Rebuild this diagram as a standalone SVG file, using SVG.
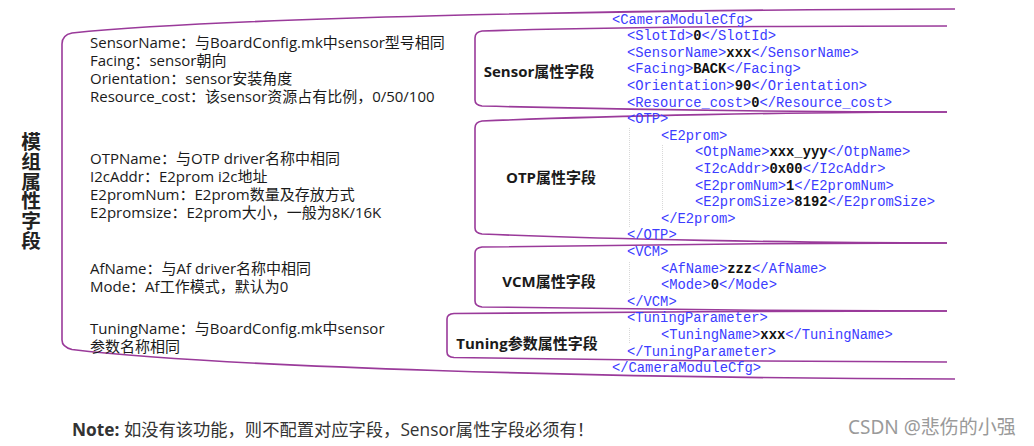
<svg xmlns="http://www.w3.org/2000/svg" width="1034" height="446" viewBox="0 0 1034 446">
<style>
.br{fill:none;stroke:#9a3a9a;stroke-width:1.6}
.desc{font-family:"Open Sans","Noto Sans CJK SC",sans-serif;font-size:15px;fill:#1a1a1a}
.lbl{font-family:"Open Sans","Noto Sans CJK SC",sans-serif;font-size:15px;font-weight:bold;fill:#1a1a1a;text-anchor:middle}
.code{font-family:"Liberation Mono","Courier New",monospace;font-size:13.8px;fill:#3c3cff}
.v{fill:#111;font-weight:bold}
.guide{stroke:#d8d8d8;stroke-width:1;stroke-dasharray:1 1}
</style>
<rect width="1034" height="446" fill="#ffffff"/>

<g id="title">
<text x="31" y="132" writing-mode="vertical-rl" font-family="'Noto Sans CJK SC',sans-serif" font-size="19.7" font-weight="bold" fill="#222">模组属性字段</text>
</g>

<g id="module-bracket">
<path class="br" d="M955,9 C600,10 220,18 72,33 Q62,35 62,44 L62,340 Q62,347 72,349.5 C220,367 600,378 955,379"/>
</g>

<g id="desc-sensor" class="desc">
<text x="90" y="48">SensorName：与BoardConfig.mk中sensor型号相同</text>
<text x="90" y="66">Facing：sensor朝向</text>
<text x="90" y="84">Orientation：sensor安装角度</text>
<text x="90" y="102">Resource_cost：该sensor资源占有比例，0/50/100</text>
</g>
<g id="desc-otp" class="desc">
<text x="90" y="164">OTPName：与OTP driver名称中相同</text>
<text x="90" y="182">I2cAddr：E2prom i2c地址</text>
<text x="90" y="200">E2promNum：E2prom数量及存放方式</text>
<text x="90" y="218">E2promsize：E2prom大小，一般为8K/16K</text>
</g>
<g id="desc-vcm" class="desc">
<text x="90" y="274">AfName：与Af driver名称中相同</text>
<text x="90" y="292">Mode：Af工作模式，默认为0</text>
</g>
<g id="desc-tuning" class="desc">
<text x="90" y="334">TuningName：与BoardConfig.mk中sensor</text>
<text x="90" y="352">参数名称相同</text>
</g>

<g id="sensor-box">
<path class="br" d="M947,26 C800,26 600,27 482,31 Q475,32 475,38 L475,100 Q475,105 482,106 C600,109 800,112 947,112"/>
<text class="lbl" x="539" y="77">Sensor属性字段</text>
</g>
<g id="otp-box">
<path class="br" d="M947,112 C800,112 600,116 482,121 Q475,122 475,128 L475,228 Q475,233 482,234 C600,239 800,243 947,243"/>
<text class="lbl" x="551" y="183">OTP属性字段</text>
</g>
<g id="vcm-box">
<path class="br" d="M947,243 C800,243 600,245 482,247 Q475,248 475,253 L475,301 Q475,306 482,307 C600,309 800,311 947,311"/>
<text class="lbl" x="549" y="287">VCM属性字段</text>
</g>
<g id="tuning-box">
<path class="br" d="M947,311 C800,311 600,312 454,313.5 Q447,314 447,319 L447,352 Q447,357 454,357.5 C600,360 800,362 947,362"/>
<text class="lbl" x="527" y="349">Tuning参数属性字段</text>
</g>

<g id="xml-guides">
<line class="guide" x1="629.5" y1="128" x2="629.5" y2="228"/>
<line class="guide" x1="662.5" y1="145" x2="662.5" y2="211"/>
<line class="guide" x1="629.5" y1="262" x2="629.5" y2="294"/>
<line class="guide" x1="629.5" y1="328" x2="629.5" y2="344"/>
</g>

<g id="xml-code" class="code">
<text x="612" y="23.5">&lt;CameraModuleCfg&gt;</text>
<text x="627" y="40.1">&lt;SlotId&gt;<tspan class="v">0</tspan>&lt;/SlotId&gt;</text>
<text x="627" y="56.7">&lt;SensorName&gt;<tspan class="v">xxx</tspan>&lt;/SensorName&gt;</text>
<text x="627" y="73.3">&lt;Facing&gt;<tspan class="v">BACK</tspan>&lt;/Facing&gt;</text>
<text x="627" y="89.9">&lt;Orientation&gt;<tspan class="v">90</tspan>&lt;/Orientation&gt;</text>
<text x="627" y="106.5">&lt;Resource_cost&gt;<tspan class="v">0</tspan>&lt;/Resource_cost&gt;</text>
<text x="627" y="123.1">&lt;OTP&gt;</text>
<text x="661" y="139.7">&lt;E2prom&gt;</text>
<text x="695" y="156.3">&lt;OtpName&gt;<tspan class="v">xxx_yyy</tspan>&lt;/OtpName&gt;</text>
<text x="695" y="172.9">&lt;I2cAddr&gt;<tspan class="v">0x00</tspan>&lt;/I2cAddr&gt;</text>
<text x="695" y="189.5">&lt;E2promNum&gt;<tspan class="v">1</tspan>&lt;/E2promNum&gt;</text>
<text x="695" y="206.1">&lt;E2promSize&gt;<tspan class="v">8192</tspan>&lt;/E2promSize&gt;</text>
<text x="661" y="222.7">&lt;/E2prom&gt;</text>
<text x="627" y="239.3">&lt;/OTP&gt;</text>
<text x="627" y="255.9">&lt;VCM&gt;</text>
<text x="661" y="272.5">&lt;AfName&gt;<tspan class="v">zzz</tspan>&lt;/AfName&gt;</text>
<text x="661" y="289.1">&lt;Mode&gt;<tspan class="v">0</tspan>&lt;/Mode&gt;</text>
<text x="627" y="305.7">&lt;/VCM&gt;</text>
<text x="627" y="322.3">&lt;TuningParameter&gt;</text>
<text x="661" y="338.9">&lt;TuningName&gt;<tspan class="v">xxx</tspan>&lt;/TuningName&gt;</text>
<text x="627" y="355.5">&lt;/TuningParameter&gt;</text>
<text x="612" y="372.1">&lt;/CameraModuleCfg&gt;</text>
</g>

<g id="note">
<text x="72" y="436" font-family="'Open Sans','Noto Sans CJK SC',sans-serif" font-size="17.3" fill="#333"><tspan font-weight="bold">Note:</tspan> 如没有该功能，则不配置对应字段，Sensor属性字段必须有！</text>
</g>

<g id="watermark">
<text x="848" y="434" font-family="'Noto Sans','Noto Sans CJK SC',sans-serif" font-size="19" fill="#9a9a9a">CSDN @悲伤的小强</text>
</g>
</svg>
